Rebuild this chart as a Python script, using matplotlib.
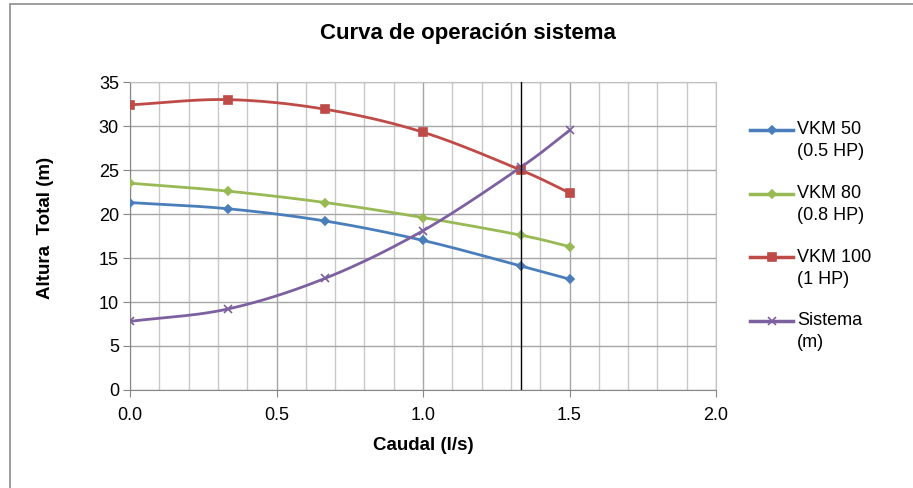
"""Curva de operación sistema: bombas VKM vs curva del sistema."""
import numpy as np
import matplotlib.pyplot as plt
from matplotlib.patches import Rectangle
from matplotlib.lines import Line2D

plt.rcParams.update({"font.family": ["Liberation Sans", "DejaVu Sans"], "font.size": 13})

# Data
caudal = [0.0, 1 / 3, 2 / 3, 1.0, 4 / 3, 1.5]
vkm50 = [21.3, 20.6, 19.2, 17.0, 14.1, 12.6]
vkm80 = [23.5, 22.6, 21.3, 19.6, 17.6, 16.3]
vkm100 = [32.4, 33.0, 31.9, 29.3, 25.0, 22.4]
sistema = [7.8, 9.2, 12.7, 18.1, 25.3, 29.5]
punto_operacion = 4 / 3

series = [
    ("VKM 50", "(0.5 HP)", vkm50, "#4A7EBB", "D", 4),
    ("VKM 80", "(0.8 HP)", vkm80, "#98B954", "D", 4),
    ("VKM 100", "(1 HP)", vkm100, "#BE4B48", "s", 6),
    ("Sistema", "(m)", sistema, "#7D60A0", "x", 6),
]

W, H = 913, 488


def fx(px):
    return px / W


def fy(py):
    return 1 - py / H


def smooth(x, y, n=30):
    """Excel-like smoothed line (Catmull-Rom through the points)."""
    x = np.asarray(x, float)
    y = np.asarray(y, float)
    px = np.r_[2 * x[0] - x[1], x, 2 * x[-1] - x[-2]]
    py = np.r_[2 * y[0] - y[1], y, 2 * y[-1] - y[-2]]
    xs, ys = [], []
    t = np.linspace(0, 1, n)
    for i in range(1, len(px) - 2):
        for p, out in ((px, xs), (py, ys)):
            p0, p1, p2, p3 = p[i - 1], p[i], p[i + 1], p[i + 2]
            out.extend(0.5 * ((2 * p1) + (-p0 + p2) * t
                              + (2 * p0 - 5 * p1 + 4 * p2 - p3) * t ** 2
                              + (-p0 + 3 * p1 - 3 * p2 + p3) * t ** 3))
    return xs, ys


fig = plt.figure(figsize=(9.13, 4.88), dpi=100)
fig.patches.append(Rectangle((fx(10), -0.1), 1.1, fy(4) + 0.1,
                             transform=fig.transFigure, fill=False,
                             edgecolor="#8C8C8C", lw=1.2))
ax = fig.add_axes([fx(130), fy(390), fx(716 - 130), (390 - 82) / H])

for name, sub, vals, color, marker, ms in series:
    sx, sy = smooth(caudal, vals)
    ax.plot(sx, sy, color=color, lw=2, zorder=3)
    ax.plot(caudal, vals, ls="none", marker=marker, color=color, ms=ms,
            mew=1.2, zorder=4)

ax.axvline(punto_operacion, color="black", lw=1.0, zorder=5)

ax.set_xlim(0, 2.0)
ax.set_ylim(0, 35)
ax.set_xticks(np.arange(0, 2.01, 0.5))
ax.set_xticks(np.arange(0, 2.01, 0.1), minor=True)
ax.set_yticks(np.arange(0, 36, 5))
ax.xaxis.set_major_formatter(plt.FormatStrFormatter("%.1f"))
ax.grid(True, which="major", color="#A6A6A6", lw=1.0)
ax.grid(True, which="minor", axis="x", color="#C8C8C8", lw=1.0)
ax.set_axisbelow(True)
for side in ["top", "right"]:
    ax.spines[side].set_color("#C0C0C0")
for side in ["left", "bottom"]:
    ax.spines[side].set_color("#868686")
ax.tick_params(which="major", length=5, color="#868686", labelsize=13, pad=3)
ax.tick_params(which="minor", length=0)
ax.tick_params(axis="x", pad=7)

fig.text(fx(423), fy(446), "Caudal (l/s)", ha="center", va="center",
         fontweight="bold", fontsize=13.5)
fig.text(fx(45), fy(228), "Altura  Total (m)", ha="center", va="center",
         rotation=90, fontweight="bold", fontsize=13.5)
fig.text(fx(468), fy(33), "Curva de operación sistema",
         ha="center", va="center", fontweight="bold", fontsize=16)

# legend drawn by hand: handle aligned with the first text line, as in Excel
for i, (name, sub, vals, color, marker, ms) in enumerate(series):
    y0 = 130 + i * 63.5
    fig.add_artist(Line2D([fx(750), fx(793)], [fy(y0), fy(y0)], color=color,
                          lw=2.5, transform=fig.transFigure))
    fig.add_artist(Line2D([fx(771.5)], [fy(y0)], marker=marker, color=color,
                          ms=ms * 0.9, mew=1.2, transform=fig.transFigure))
    fig.text(fx(797), fy(y0), name, ha="left", va="center", fontsize=13)
    fig.text(fx(797), fy(y0 + 22), sub, ha="left", va="center", fontsize=13)

plt.savefig("out.png", dpi=100)
plt.close()
